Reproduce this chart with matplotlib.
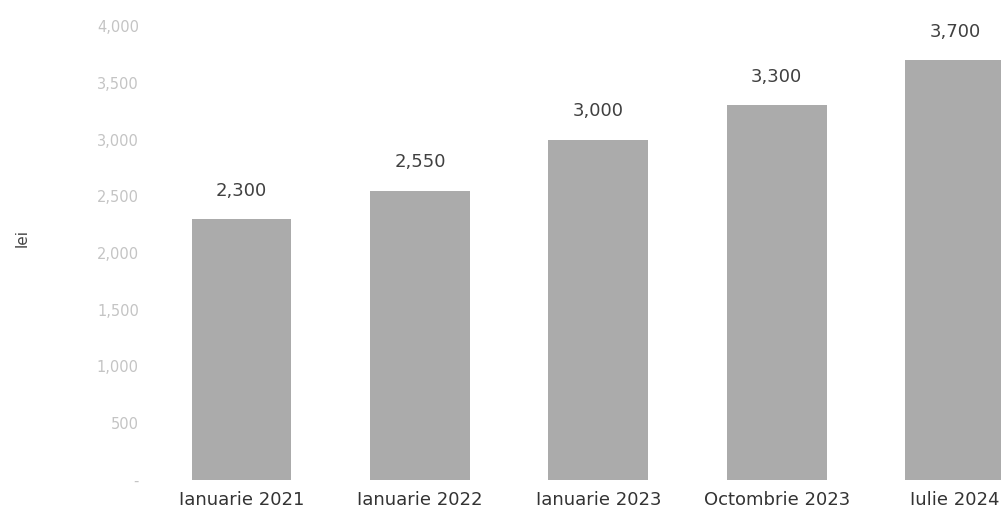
import matplotlib
matplotlib.use("Agg")
import matplotlib.pyplot as plt

categories = ["Ianuarie 2021", "Ianuarie 2022", "Ianuarie 2023", "Octombrie 2023", "Iulie 2024"]
values = [2300, 2550, 3000, 3300, 3700]
yticks = [0, 500, 1000, 1500, 2000, 2500, 3000, 3500, 4000]
ytick_labels = ["-", "500", "1,000", "1,500", "2,000", "2,500", "3,000", "3,500", "4,000"]
ylabel = "lei"

plt.rcParams['font.family'] = ['DejaVu Sans']

W, H = 1001, 522
fig = plt.figure(figsize=(W / 100, H / 100), dpi=100)
fig.patch.set_facecolor("white")

left_px, right_px = 150, 1001
bottom_px, top_px = 480, 26
ax = fig.add_axes([left_px / W, 1 - bottom_px / H, (right_px - left_px) / W, (bottom_px - top_px) / H])

c0, step = 241.5, 178.4
xs = list(range(len(categories)))
ax.bar(xs, values, width=0.56, color="#ababab", edgecolor="none")
ax.set_xlim((left_px - c0) / step, (right_px - c0) / step)
ax.set_ylim(0, 4000)

for x, v in zip(xs, values):
    ax.annotate(f"{v:,}", (x, v), xytext=(0, 14), textcoords="offset points",
                ha="center", va="bottom", fontsize=13, color="#404040")

ax.set_xticks(xs)
ax.set_xticklabels(categories, fontsize=13, color="#333333")
ax.set_yticks(yticks)
ax.set_yticklabels(ytick_labels, fontsize=10.5, color="#c4c4c4")
ax.tick_params(axis="both", length=0)
ax.tick_params(axis="y", pad=8)
ax.tick_params(axis="x", pad=8)
for s in ax.spines.values():
    s.set_visible(False)

fig.text(22 / W, 1 - 238 / H, ylabel, rotation=90, ha="center", va="center",
         fontsize=11, color="#444444")

fig.savefig("out.png", dpi=100, facecolor="white")
